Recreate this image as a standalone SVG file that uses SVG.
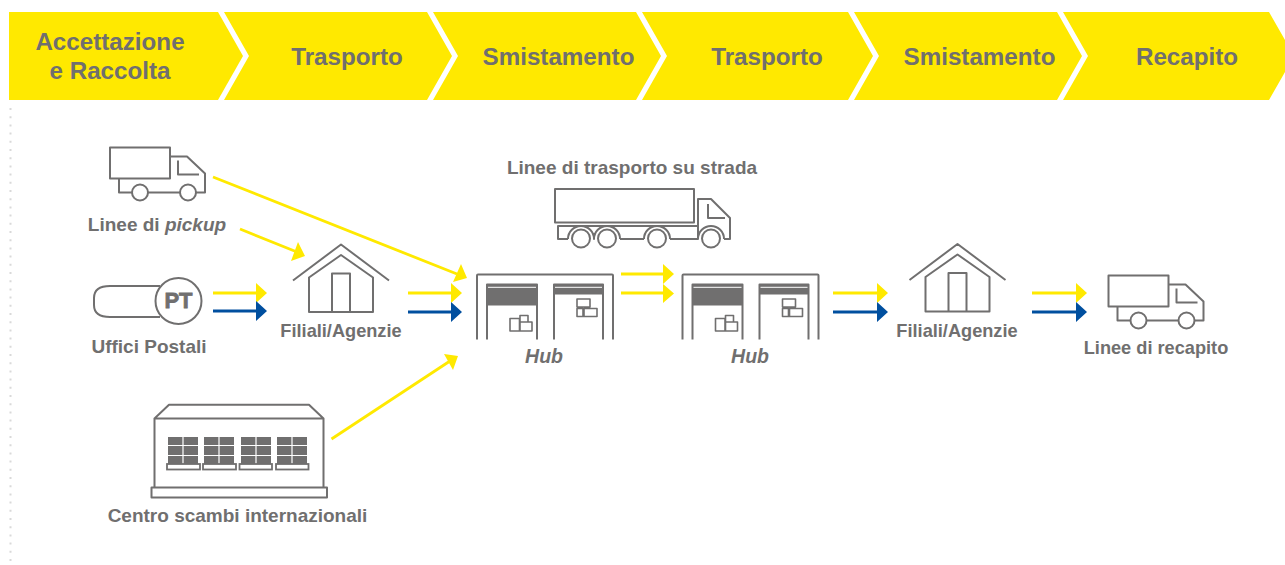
<svg xmlns="http://www.w3.org/2000/svg" width="1285" height="565" viewBox="0 0 1285 565">
<style>
.t{font-family:"Liberation Sans",Arial,sans-serif;font-weight:700;fill:#706f6f;text-anchor:middle}
.h{font-size:24.200px}.l{font-size:19px}.m{font-size:18.200px}
.i{font-style:italic}
.o{fill:none;stroke:#706f6f;stroke-width:2;stroke-linejoin:round}
.w{fill:#fff;stroke:#706f6f;stroke-width:2}
.f{fill:#706f6f}
.y{stroke:#ffe900;stroke-width:2.800;fill:none}
.b{stroke:#004f9f;stroke-width:2.800;fill:none}
.ya{fill:#ffe900}.ba{fill:#004f9f}
.bar{fill:#ffe900}
</style>
<defs>
<g id="truck">
<path class="o" d="M0 0H60V31H0ZM60 9H77L95 26V45H80M70 45H38M22 45H9V31M68 13V27H89"/>
<circle class="w" cx="30" cy="45" r="8"/><circle class="w" cx="78" cy="45" r="8"/>
</g>
<g id="house">
<path class="o" d="M0 36L48 0L96 36M16 33L48 10.500L80 33V67.500H16ZM39 67.500V29H57V67.500"/>
</g>
<g id="hub">
<path class="o" d="M0 65V1Q0 0 1 0H135Q136 0 136 1V65M10 65V10H60V65M77 65V10H126V65"/>
<rect class="f" x="10" y="10" width="50" height="21"/>
<rect class="f" x="77" y="10" width="49" height="10"/>
<path d="M11 12.800H59M78 12.800H125" stroke="#fff" stroke-width="1"/>
<path class="o" style="stroke-width:1.600" d="M33 44H42.500V56.500H33ZM43 41H51V47.500H43ZM43 47.500H55V56.500H43ZM100 24.500H113V32.500H100ZM100 34H106V42H100ZM107 34H120V42H107Z"/>
</g>
</defs>
<g id="steps">
<path class="bar" d="M9 12H218L243 56L218 100H9Z"/>
<path class="bar" d="M224 12H427L452 56L427 100H224L249 56Z"/>
<path class="bar" d="M433 12H636L661 56L636 100H433L458 56Z"/>
<path class="bar" d="M642 12H848L873 56L848 100H642L667 56Z"/>
<path class="bar" d="M854 12H1057L1082 56L1057 100H854L879 56Z"/>
<path class="bar" d="M1063 12H1269L1285 40V72L1269 100H1063L1088 56Z"/>
<text class="t h" x="110" y="50">Accettazione</text>
<text class="t h" x="110" y="79">e Raccolta</text>
<text class="t h" x="347" y="65">Trasporto</text>
<text class="t h" x="558.500" y="65">Smistamento</text>
<text class="t h" x="767" y="65">Trasporto</text>
<text class="t h" x="979.500" y="65">Smistamento</text>
<text class="t h" x="1187" y="65">Recapito</text>
</g>
<path id="guide" d="M10.500 108V562" stroke="#d9d9d9" stroke-width="2" stroke-dasharray="2 6.200" fill="none"/>
<g id="node-pickup">
<use href="#truck" x="110" y="147.500"/>
<text class="t l" x="157" y="231">Linee di <tspan class="i">pickup</tspan></text>
</g>
<g id="node-uffici">
<path class="o" d="M160 286H110Q94 286 94 298V305Q94 317 110 317H160"/>
<circle class="w" cx="178.500" cy="301" r="23"/>
<text x="178.500" y="308" class="t" style="font-size:22px;stroke:#706f6f;stroke-width:.8">PT</text>
<text class="t l" x="149" y="352.500">Uffici Postali</text>
</g>
<g id="node-filiali1">
<use href="#house" x="293" y="244.500"/>
<text class="t m" x="341" y="336.500">Filiali/Agenzie</text>
</g>
<g id="node-centro">
<path class="o" d="M154.500 418.500V487M323.500 418.500V487M154.500 418.500H323.500L309 404.700H169ZM151.500 487.500H327V497.500H151.500Z"/>
<g class="f">
<rect x="168" y="437" width="30" height="8"/><rect x="168" y="446" width="30" height="9"/><rect x="168" y="456" width="30" height="8"/>
<rect x="204" y="437" width="30" height="8"/><rect x="204" y="446" width="30" height="9"/><rect x="204" y="456" width="30" height="8"/>
<rect x="241" y="437" width="30" height="8"/><rect x="241" y="446" width="30" height="9"/><rect x="241" y="456" width="30" height="8"/>
<rect x="277" y="437" width="30" height="8"/><rect x="277" y="446" width="30" height="9"/><rect x="277" y="456" width="30" height="8"/>
</g>
<path d="M183 437V464M219 437V464M256 437V464M292 437V464" stroke="#fff" stroke-width="1.200"/>
<g fill="#fff" stroke="#706f6f" stroke-width="1.800">
<rect x="167" y="464" width="33" height="5.500"/><rect x="203" y="464" width="33" height="5.500"/><rect x="239.500" y="464" width="32.500" height="5.500"/><rect x="276" y="464" width="32.500" height="5.500"/>
</g>
<text class="t l" x="237.500" y="521.500">Centro scambi internazionali</text>
</g>
<g id="node-strada">
<text class="t l" x="632" y="174">Linee di trasporto su strada</text>
<path class="o" d="M555 189H694V222.500H555ZM698 226V199H711L730 218V239H724M708 204V218H725M698 226H558V239H568M620 239H644M670 239H698V226"/>
<path class="o" d="M568 239a13 13 0 0 1 26 0a13 13 0 0 1 26 0M644 239a13 13 0 0 1 26 0M698 239a13 13 0 0 1 26 0"/>
<circle class="w" cx="581" cy="238.500" r="9"/><circle class="w" cx="607" cy="238.500" r="9"/><circle class="w" cx="657" cy="238.500" r="9"/><circle class="w" cx="711" cy="238.500" r="9"/>
</g>
<g id="node-hub1"><use href="#hub" x="477" y="274.500"/><text class="t l i" x="544" y="362.500" style="font-size:19.500px">Hub</text></g>
<g id="node-hub2"><use href="#hub" x="682.500" y="274.500"/><text class="t l i" x="750" y="362.500" style="font-size:19.500px">Hub</text></g>
<g id="node-filiali2">
<use href="#house" x="909.500" y="244"/>
<text class="t m" x="957" y="336.500">Filiali/Agenzie</text>
</g>
<g id="node-recapito">
<use href="#truck" x="1108.500" y="275.500"/>
<text class="t m" x="1156" y="354">Linee di recapito</text>
</g>
<g id="connectors">
<path class="y" d="M213 177L457 274M240 229L297 252M213 293H257M408 293H452M331.500 439L450 361M621 274H663M621 293H663M833 293H877M1032 293H1076"/>
<path class="b" d="M213 311H257M408 312H452M833 312H877M1032 312H1076"/>
<path class="ya" d="M467 278L453 282L461 264ZM305 256L291 261L298 242ZM256 283L267 293L256 303ZM451 283L462 293L451 303ZM458 356L453 370L444 354ZM663 264L674 274L663 284ZM663 284L674 293.500L663 303ZM877 283L888 293L877 303ZM1076 283L1087 293L1076 303Z"/>
<path class="ba" d="M256 301L267 311L256 321ZM451 302L462 312L451 322ZM877 302L888 312L877 322ZM1076 302L1087 312L1076 322Z"/>
</g>
</svg>
